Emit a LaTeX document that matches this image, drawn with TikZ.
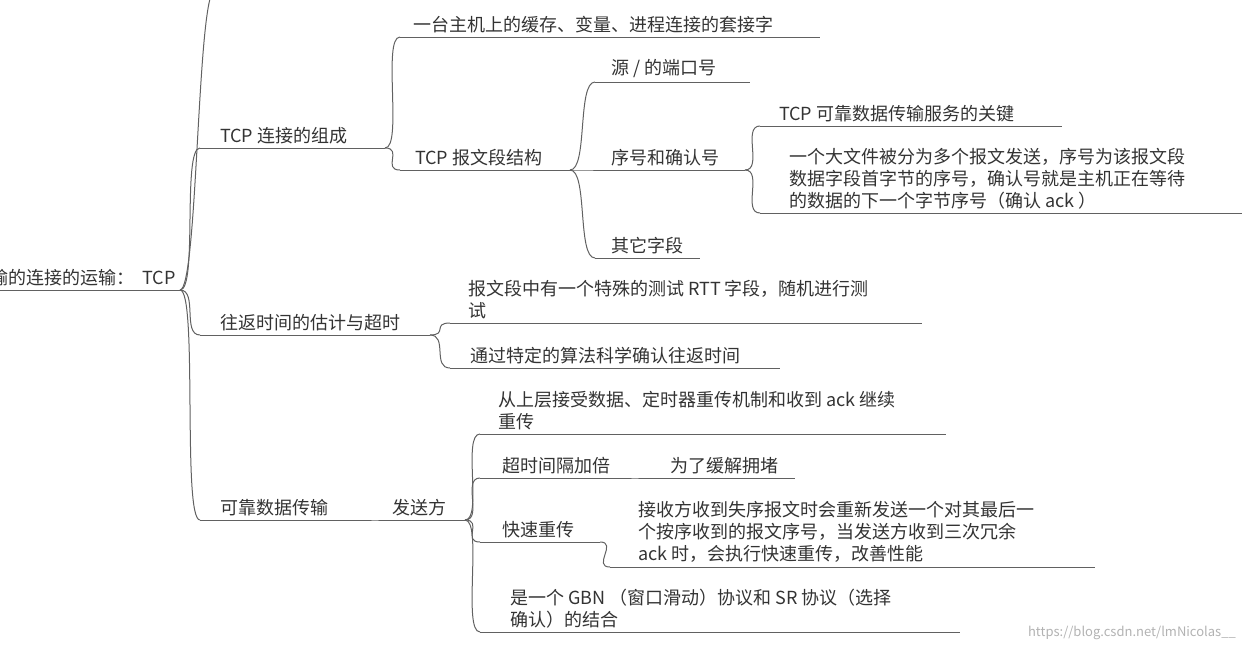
\documentclass[tikz,border=0pt]{standalone}
\usepackage{fontspec}
\setmainfont{Noto Sans CJK SC}
\begin{document}
\begin{tikzpicture}[x=1pt,y=-1pt,
  ln/.style={draw=black!62,line width=1pt},
  lbl/.style={anchor=south west,inner sep=0pt,text=black!80,font=\fontsize{18}{22}\selectfont,align=left},
  wm/.style={anchor=south east,inner sep=0pt,text=black!30,font=\fontsize{13}{15}\selectfont}]
\useasboundingbox (0,0) rectangle (1242,648);
\clip (0,0) rectangle (1242,648);
\newcommand\mmseg[4]{\coordinate (#1a) at (#2,#4);\coordinate (#1b) at (#3,#4);\draw[ln] (#1a)--(#1b);}
\newcommand\mmcon[2]{\draw[ln] (#1b) .. controls +(18,0) and +(-18,0) .. (#2a);}
% root
\mmseg{r}{-20}{180}{290}
\node[lbl,anchor=south east] (rt) at (176,286) {输的连接的运输：\ \ TCP};
\coordinate (upa) at (215,-10);
\draw[ln] (rb) .. controls +(18,0) and +(-18,0) .. (upa);
% TCP 连接的组成
\mmseg{c}{200}{385}{148}
\node[lbl] (ct) at (220,144) {TCP 连接的组成};
\mmcon{r}{c}
\mmseg{c1}{400}{820}{37}
\node[lbl] (c1t) at (413,33) {一台主机上的缓存、变量、进程连接的套接字};
\mmcon{c}{c1}
\mmseg{s}{400}{570}{170}
\node[lbl] (st) at (415,166) {TCP 报文段结构};
\mmcon{c}{s}
\mmseg{s1}{595}{750}{82}
\node[lbl] (s1t) at (611,78) {源 / 的端口号};
\mmcon{s}{s1}
\mmseg{s2}{595}{745}{170}
\node[lbl] (s2t) at (611,166) {序号和确认号};
\mmcon{s}{s2}
\mmseg{s21}{760}{1062}{126}
\node[lbl] (s21t) at (779,122) {TCP 可靠数据传输服务的关键};
\mmcon{s2}{s21}
\mmseg{s22}{760}{1242}{213}
\node[lbl] (s22t) at (789,209) {一个大文件被分为多个报文发送，序号为该报文段\\数据字段首字节的序号，确认号就是主机正在等待\\的数据的下一个字节序号（确认 ack ）};
\mmcon{s2}{s22}
\mmseg{s3}{595}{700}{258}
\node[lbl] (s3t) at (611,254) {其它字段};
\mmcon{s}{s3}
% 往返时间
\mmseg{w}{200}{430}{335}
\node[lbl] (wt) at (220,331) {往返时间的估计与超时};
\mmcon{r}{w}
\mmseg{w1}{450}{922}{323}
\node[lbl] (w1t) at (468,319) {报文段中有一个特殊的测试 RTT 字段，随机进行测\\试};
\mmcon{w}{w1}
\mmseg{w2}{450}{780}{368}
\node[lbl] (w2t) at (470,364) {通过特定的算法科学确认往返时间};
\mmcon{w}{w2}
% 可靠数据传输
\mmseg{k}{200}{370}{520}
\node[lbl] (kt) at (220,516) {可靠数据传输};
\mmcon{r}{k}
\mmseg{f}{380}{465}{520}
\node[lbl] (ft) at (392,516) {发送方};
\mmcon{k}{f}
\mmseg{f1}{480}{946}{434}
\node[lbl] (f1t) at (498,430) {从上层接受数据、定时器重传机制和收到 ack 继续\\重传};
\mmcon{f}{f1}
\mmseg{f2}{480}{630}{478}
\node[lbl] (f2t) at (502,474) {超时间隔加倍};
\mmcon{f}{f2}
\mmseg{f21}{640}{795}{478}
\node[lbl] (f21t) at (670,474) {为了缓解拥堵};
\mmcon{f2}{f21}
\mmseg{f3}{480}{600}{542}
\node[lbl] (f3t) at (502,538) {快速重传};
\mmcon{f}{f3}
\mmseg{f31}{610}{1095}{567}
\node[lbl] (f31t) at (638,563) {接收方收到失序报文时会重新发送一个对其最后一\\个按序收到的报文序号，当发送方收到三次冗余\\ack 时，会执行快速重传，改善性能};
\mmcon{f3}{f31}
\mmseg{f4}{480}{960}{632}
\node[lbl] (f4t) at (510,628) {是一个 GBN （窗口滑动）协议和 SR 协议（选择\\确认）的结合};
\mmcon{f}{f4}
\node[wm] (wmk) at (1236,640) {https://blog.csdn.net/lmNicolas\_\_};
\end{tikzpicture}
\end{document}
